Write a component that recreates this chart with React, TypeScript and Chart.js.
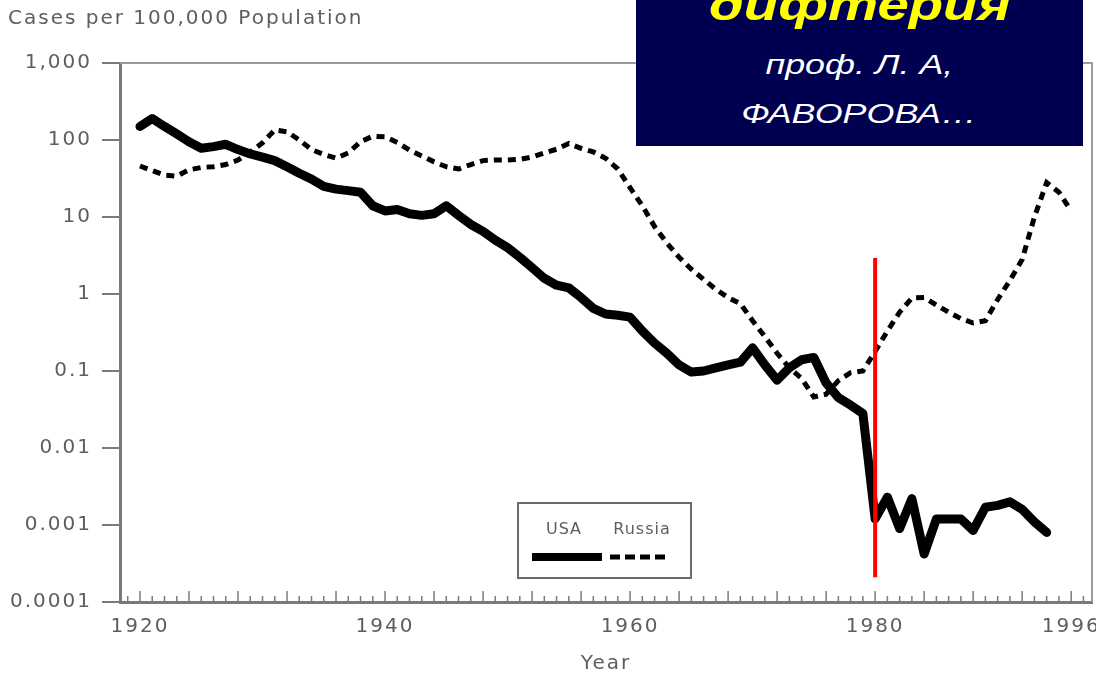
import React, { useEffect, useRef } from 'react';
import { Chart, registerables } from 'chart.js';

Chart.register(...registerables);

// ---------- data ----------
const chartTitle = 'Cases per 100,000 Population';
const xAxisTitle = 'Year';
const seriesNames = ['USA', 'Russia'];
const xTickValues = [1920, 1940, 1960, 1980, 1996];
const yTickValues = [0.0001, 0.001, 0.01, 0.1, 1, 10, 100, 1000];
const yTickLabels = ['0.0001', '0.001', '0.01', '0.1', '1', '10', '100', '1,000'];

const usaYears = [
  1920, 1921, 1922, 1923, 1924, 1925, 1926, 1927, 1928, 1929,
  1930, 1931, 1932, 1933, 1934, 1935, 1936, 1937, 1938, 1939,
  1940, 1941, 1942, 1943, 1944, 1945, 1946, 1947, 1948, 1949,
  1950, 1951, 1952, 1953, 1954, 1955, 1956, 1957, 1958, 1959,
  1960, 1961, 1962, 1963, 1964, 1965, 1966, 1967, 1968, 1969,
  1970, 1971, 1972, 1973, 1974, 1975, 1976, 1977, 1978, 1979,
  1980, 1981, 1982, 1983, 1984, 1985, 1986, 1987, 1988, 1989,
  1990, 1991, 1992, 1993, 1994,
];
const usaCases = [
  150, 190, 150, 120, 95, 78, 82, 88, 75, 66,
  60, 54, 45, 37, 31, 25, 23, 22, 21, 14,
  12, 12.5, 11, 10.5, 11, 14, 10.5, 8, 6.5, 5,
  4, 3, 2.2, 1.6, 1.3, 1.2, 0.9, 0.65, 0.55, 0.53,
  0.5, 0.33, 0.23, 0.17, 0.12, 0.097, 0.1, 0.11, 0.12, 0.13,
  0.2, 0.12, 0.076, 0.11, 0.14, 0.15, 0.07, 0.045, 0.036, 0.028,
  0.0012, 0.0023, 0.0009, 0.0022, 0.00042, 0.0012, 0.0012, 0.0012, 0.00085, 0.0017,
  0.0018, 0.002, 0.0016, 0.0011, 0.0008,
];

const russiaYears = [
  1920, 1921, 1922, 1923, 1924, 1925, 1926, 1927, 1928, 1929,
  1930, 1931, 1932, 1933, 1934, 1935, 1936, 1937, 1938, 1939,
  1940, 1941, 1942, 1943, 1944, 1945, 1946, 1947, 1948, 1949,
  1950, 1951, 1952, 1953, 1954, 1955, 1956, 1957, 1958, 1959,
  1960, 1961, 1962, 1963, 1964, 1965, 1966, 1967, 1968, 1969,
  1970, 1971, 1972, 1973, 1974, 1975, 1976, 1977, 1978, 1979,
  1980, 1981, 1982, 1983, 1984, 1985, 1986, 1987, 1988, 1989,
  1990, 1991, 1992, 1993, 1994, 1995, 1996,
];
const russiaCases = [
  46, 40, 35, 34, 41, 44, 45, 48, 55, 70,
  92, 135, 128, 100, 75, 65, 58, 68, 95, 112,
  110, 93, 74, 62, 52, 45, 42, 48, 54, 55,
  55, 56, 60, 68, 76, 90, 78, 70, 58, 42,
  24, 14, 7.5, 4.6, 3.0, 2.1, 1.55, 1.15, 0.9, 0.75,
  0.45, 0.28, 0.17, 0.11, 0.08, 0.046, 0.05, 0.075, 0.095, 0.1,
  0.18, 0.33, 0.58, 0.89, 0.9, 0.72, 0.58, 0.48, 0.42, 0.45,
  0.85, 1.5, 2.8, 10, 28, 21, 12,
];

const markerYears = [1980, 1980];
const markerValues = [2.93, 0.00021];

// ---------- styles ----------
const FONT = '"DejaVu Sans", "Liberation Sans", Arial, sans-serif';
const TEXT = '#5e5e5e';
const AXIS = '#7a7a7a';
const SPACING = '2px';

const spacingPlugin = {
  id: 'letterSpacing',
  beforeLayout(chart: any) {
    chart.ctx.letterSpacing = SPACING;
  },
  beforeDraw(chart: any) {
    chart.ctx.letterSpacing = SPACING;
  },
};

const framePlugin = {
  id: 'frame',
  beforeDatasetsDraw(chart: any) {
    const { ctx, chartArea: a, scales } = chart;
    const xs = scales.x;
    ctx.save();
    ctx.strokeStyle = '#9a9a9a';
    ctx.lineWidth = 2;
    ctx.beginPath();
    ctx.moveTo(a.left, a.top);
    ctx.lineTo(a.right, a.top);
    ctx.lineTo(a.right, a.bottom);
    ctx.stroke();
    ctx.strokeStyle = AXIS;
    ctx.lineWidth = 1.5;
    for (let yr = Math.ceil(xs.min); yr <= xs.max; yr++) {
      const px = xs.getPixelForValue(yr);
      const len = yr % 4 === 0 ? 11 : 6;
      ctx.beginPath();
      ctx.moveTo(px, a.bottom);
      ctx.lineTo(px, a.bottom - len);
      ctx.stroke();
    }
    ctx.restore();
  },
};

const legendPlugin = {
  id: 'boxLegend',
  afterDraw(chart: any) {
    const { ctx } = chart;
    const usa = chart.data.datasets[1];
    const rus = chart.data.datasets[2];
    ctx.save();
    ctx.letterSpacing = '1px';
    ctx.fillStyle = '#ffffff';
    ctx.fillRect(518, 503, 173, 75);
    ctx.strokeStyle = '#6a6a6a';
    ctx.lineWidth = 2;
    ctx.strokeRect(518, 503, 173, 75);
    ctx.fillStyle = TEXT;
    ctx.font = `16px ${FONT}`;
    ctx.textAlign = 'center';
    ctx.textBaseline = 'middle';
    ctx.fillText(usa.label, 564, 530);
    ctx.fillText(rus.label, 642, 530);
    ctx.lineCap = 'butt';
    ctx.strokeStyle = usa.borderColor;
    ctx.lineWidth = 8;
    ctx.beginPath();
    ctx.moveTo(532, 557);
    ctx.lineTo(602, 557);
    ctx.stroke();
    ctx.strokeStyle = rus.borderColor;
    ctx.lineWidth = rus.borderWidth;
    ctx.setLineDash([10, 5]);
    ctx.beginPath();
    ctx.moveTo(610, 557);
    ctx.lineTo(668, 557);
    ctx.stroke();
    ctx.restore();
  },
};

export default function App() {
  const canvasRef = useRef<HTMLCanvasElement | null>(null);

  useEffect(() => {
    const canvas = canvasRef.current;
    if (!canvas) return;
    const chart = new Chart(canvas, {
      type: 'line',
      data: {
        datasets: [
          {
            label: 'marker',
            data: markerYears.map((x, i) => ({ x, y: markerValues[i] })),
            borderColor: '#ff0000',
            borderWidth: 4,
            pointRadius: 0,
            order: 0,
          },
          {
            label: seriesNames[0],
            data: usaYears.map((x, i) => ({ x, y: usaCases[i] })),
            borderColor: '#000000',
            borderWidth: 9,
            pointRadius: 0,
            borderJoinStyle: 'round',
            borderCapStyle: 'round',
            order: 1,
          },
          {
            label: seriesNames[1],
            data: russiaYears.map((x, i) => ({ x, y: russiaCases[i] })),
            borderColor: '#000000',
            borderWidth: 5,
            borderDash: [8, 6],
            pointRadius: 0,
            order: 2,
          },
        ],
      } as any,
      options: {
        animation: false,
        responsive: false,
        events: [],
        layout: { padding: { left: 8, right: 4, top: 0, bottom: 0 } },
        plugins: {
          legend: { display: false },
          tooltip: { enabled: false },
          title: {
            display: true,
            text: chartTitle,
            align: 'start',
            color: TEXT,
            font: { family: FONT, size: 20, weight: 'normal' },
            padding: { top: 7, bottom: 32 },
          },
        },
        scales: {
          x: {
            type: 'linear',
            min: 1918.37,
            max: 1997.7,
            afterBuildTicks: (s: any) => {
              s.ticks = xTickValues.map((v) => ({ value: v }));
            },
            afterFit: (s: any) => {
              s.height = 76;
              s.paddingLeft = 0;
              s.paddingRight = 0;
            },
            ticks: {
              callback: (v: any) => String(v),
              color: TEXT,
              font: { family: FONT, size: 20 },
              padding: 13,
              maxRotation: 0,
              autoSkip: false,
            },
            grid: { drawOnChartArea: false, drawTicks: false },
            border: { display: true, color: AXIS, width: 3 },
            title: {
              display: true,
              text: xAxisTitle,
              color: TEXT,
              font: { family: FONT, size: 20 },
              padding: { top: 0, bottom: 2 },
            },
          },
          y: {
            type: 'logarithmic',
            min: 0.0001,
            max: 1000,
            afterBuildTicks: (s: any) => {
              s.ticks = yTickValues.map((v) => ({ value: v }));
            },
            afterFit: (s: any) => {
              s.width = 112;
              s.paddingTop = 0;
              s.paddingBottom = 0;
            },
            ticks: {
              callback: (_v: any, i: number) => yTickLabels[i],
              color: TEXT,
              font: { family: FONT, size: 20 },
              padding: 10,
              autoSkip: false,
            },
            grid: { drawOnChartArea: false, tickLength: 18, color: AXIS, lineWidth: 2 },
            border: { display: true, color: AXIS, width: 3 },
          },
        },
      } as any,
      plugins: [spacingPlugin, framePlugin, legendPlugin],
    });
    return () => chart.destroy();
  }, []);

  const boxText: React.CSSProperties = {
    position: 'absolute',
    left: 0,
    right: 0,
    textAlign: 'center',
    lineHeight: 1,
    whiteSpace: 'nowrap',
    fontFamily: '"Liberation Sans", Arial, sans-serif',
    fontStyle: 'italic',
  };
  const stretch: React.CSSProperties = {
    display: 'inline-block',
    transform: 'scaleX(1.28)',
    transformOrigin: 'center',
  };

  return (
    <div style={{ position: 'absolute', left: 0, top: 0, width: 1096, height: 678, background: '#ffffff', overflow: 'hidden' }}>
      <canvas ref={canvasRef} width={1096} height={678} style={{ display: 'block', width: 1096, height: 678 }} />
      <div
        style={{
          position: 'absolute',
          left: 636,
          top: 0,
          width: 447,
          height: 146,
          background: '#000050',
          overflow: 'hidden',
        }}
      >
        <div style={{ ...boxText, top: -17, fontSize: 44, fontWeight: 'bold', color: '#ffff00' }}>
          <span style={stretch}>дифтерия</span>
        </div>
        <div style={{ ...boxText, top: 51, fontSize: 28, color: '#ffffff' }}>
          <span style={stretch}>проф. Л. А,</span>
        </div>
        <div style={{ ...boxText, top: 100, fontSize: 28, color: '#ffffff' }}>
          <span style={stretch}>ФАВОРОВА…</span>
        </div>
      </div>
    </div>
  );
}
